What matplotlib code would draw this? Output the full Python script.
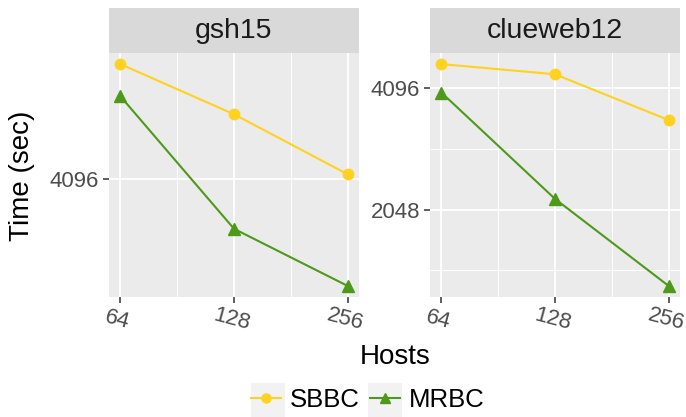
import matplotlib.pyplot as plt
import numpy as np
from matplotlib.lines import Line2D
from matplotlib.patches import Rectangle

plt.rcParams['font.family'] = ['Liberation Sans', 'DejaVu Sans']

hosts = [64, 128, 256]
graphs = ['gsh15', 'clueweb12']
sbbc = {'gsh15': [5340, 4756, 4141], 'clueweb12': [4692, 4428, 3411]}
mrbc = {'gsh15': [4958, 3651, 3200], 'clueweb12': [3990, 2177, 1326]}
series = ['SBBC', 'MRBC']
colors = {'SBBC': '#FFD21F', 'MRBC': '#4D9A1A'}
markers = {'SBBC': 'o', 'MRBC': '^'}

W, H = 686, 417
fig = plt.figure(figsize=(W / 100, H / 100), dpi=100)

panels = [(109, 359), (430, 680)]
ptop, pbot = 53, 297
stop = 8


def expand(lo, hi, f=0.05):
    r = hi - lo
    return lo - f * r, hi + f * r


for g, (x0, x1) in zip(graphs, panels):
    ax = fig.add_axes([x0 / W, (H - pbot) / H, (x1 - x0) / W, (pbot - ptop) / H])
    ax.set_facecolor('#EBEBEB')
    for s, vals in (('SBBC', sbbc[g]), ('MRBC', mrbc[g])):
        ax.plot(np.log2(hosts), np.log2(vals), color=colors[s], lw=1.5,
                marker=markers[s], ms=7.5 if s == 'SBBC' else 8.5, zorder=3)
    allv = np.log2(sbbc[g] + mrbc[g])
    ylo, yhi = expand(allv.min(), allv.max())
    ax.set_ylim(ylo, yhi)
    xlo, xhi = expand(np.log2(hosts[0]), np.log2(hosts[-1]))
    ax.set_xlim(xlo, xhi)
    xt = np.log2(hosts)
    ax.set_xticks(xt)
    ax.set_xticks((xt[:-1] + xt[1:]) / 2, minor=True)
    ax.set_xticklabels([str(h) for h in hosts], rotation=-15, fontsize=16,
                       color='#4D4D4D', rotation_mode='anchor', ha='center', va='top')
    yt = [k for k in range(int(np.floor(ylo)), int(np.ceil(yhi)) + 1) if ylo <= k <= yhi]
    ax.set_yticks(yt)
    ax.set_yticks([k + 0.5 for k in range(int(np.floor(ylo)) - 1, int(np.ceil(yhi)) + 1)
                   if ylo <= k + 0.5 <= yhi], minor=True)
    ax.set_yticklabels([str(2 ** k) for k in yt], fontsize=16, color='#4D4D4D')
    ax.grid(which='major', color='white', lw=1.3)
    ax.grid(which='minor', color='white', lw=0.7)
    ax.set_axisbelow(True)
    ax.tick_params(which='major', length=4, width=1.1, color='#333333', pad=3)
    ax.tick_params(axis='x', which='major', pad=5)
    ax.tick_params(which='minor', length=0)
    for sp in ax.spines.values():
        sp.set_visible(False)

    sx = fig.add_axes([x0 / W, (H - ptop) / H, (x1 - x0) / W, (ptop - stop) / H])
    sx.set_facecolor('#D9D9D9')
    sx.set_xticks([])
    sx.set_yticks([])
    for sp in sx.spines.values():
        sp.set_visible(False)
    sx.text(0.5, 0.48, g, ha='center', va='center', fontsize=20.5, color='#1A1A1A',
            transform=sx.transAxes)

fig.text(22 / W, 1 - 176 / H, 'Time (sec)', rotation=90, ha='center', va='center', fontsize=20)
fig.text(395 / W, 1 - 357 / H, 'Hosts', ha='center', va='center', fontsize=20)

# legend key backgrounds
for kx in (251, 368):
    fig.patches.append(Rectangle((kx / W, 0), 34 / W, 34 / H, transform=fig.transFigure,
                                 facecolor='#F2F2F2', edgecolor='none', zorder=0))
handles = [Line2D([], [], color=colors[s], marker=markers[s], lw=1.5, ms=6.5) for s in series]
fig.legend(handles, series, loc='center', bbox_to_anchor=(368 / W, 1 - 400 / H), ncol=2,
           frameon=False, fontsize=18.5, handlelength=1.17, handletextpad=0.35,
           columnspacing=0.4, borderpad=0)

fig.savefig('out.png', dpi=100)
